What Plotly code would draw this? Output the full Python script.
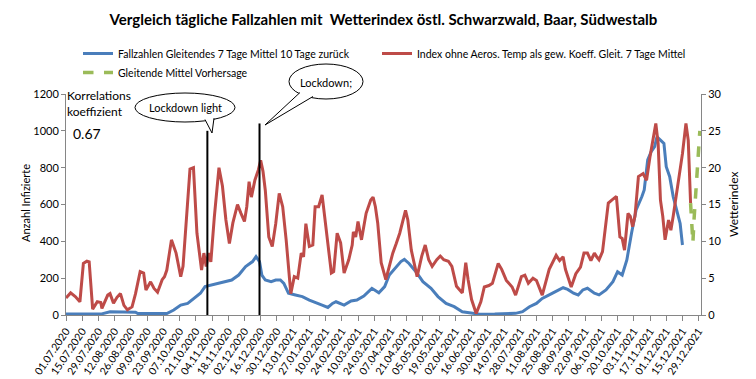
import plotly.graph_objects as go

# ---------------- data ----------------
faelle_dates = ["2020-07-01", "2020-07-31", "2020-08-08", "2020-08-30", "2020-09-01", "2020-09-26",
                "2020-10-02", "2020-10-08", "2020-10-14", "2020-10-19", "2020-10-25", "2020-10-29",
                "2020-11-04", "2020-11-10", "2020-11-16", "2020-11-21", "2020-11-27", "2020-12-03",
                "2020-12-09", "2020-12-12", "2020-12-15", "2020-12-17", "2020-12-20", "2020-12-25",
                "2020-12-29", "2021-01-02", "2021-01-05", "2021-01-09", "2021-01-15", "2021-01-21",
                "2021-01-27", "2021-02-01", "2021-02-07", "2021-02-12", "2021-02-16", "2021-02-19",
                "2021-02-26", "2021-03-04", "2021-03-09", "2021-03-15", "2021-03-22", "2021-03-28",
                "2021-04-02", "2021-04-06", "2021-04-12", "2021-04-16", "2021-04-19", "2021-04-23",
                "2021-04-29", "2021-05-05", "2021-05-12", "2021-05-18", "2021-05-25", "2021-06-01",
                "2021-06-08", "2021-06-16", "2021-06-23", "2021-07-06", "2021-07-24", "2021-07-30",
                "2021-08-05", "2021-08-11", "2021-08-16", "2021-08-22", "2021-08-28", "2021-09-03",
                "2021-09-07", "2021-09-12", "2021-09-16", "2021-09-20", "2021-09-24", "2021-09-30",
                "2021-10-04", "2021-10-10", "2021-10-16", "2021-10-20", "2021-10-24", "2021-10-28",
                "2021-11-01", "2021-11-05", "2021-11-10", "2021-11-12", "2021-11-15", "2021-11-18",
                "2021-11-21", "2021-11-23", "2021-11-26", "2021-11-29", "2021-12-01", "2021-12-04",
                "2021-12-07", "2021-12-10", "2021-12-13", "2021-12-15"]
faelle_values = [5, 5, 18, 15, 8, 8,
                 27, 54, 63, 90, 118, 154,
                 163, 176, 181, 190, 217, 263,
                 290, 317, 290, 217, 190, 181,
                 190, 190, 172, 118, 109, 100,
                 81, 67, 54, 41, 63, 72,
                 54, 76, 81, 103, 145, 121,
                 154, 217, 262, 290, 302, 280,
                 235, 181, 145, 100, 63, 45,
                 18, 9, 4, 5, 9, 18,
                 45, 63, 90, 109, 127, 148,
                 139, 118, 109, 136, 145, 118,
                 109, 136, 181, 235, 217, 299,
                 443, 570, 643, 679, 842, 887,
                 914, 968, 950, 932, 805, 751,
                 643, 570, 497, 380]

index_dates = ["2020-07-01", "2020-07-05", "2020-07-09", "2020-07-13", "2020-07-16", "2020-07-19",
               "2020-07-21", "2020-07-24", "2020-07-28", "2020-07-31", "2020-08-01", "2020-08-06",
               "2020-08-08", "2020-08-11", "2020-08-14", "2020-08-17", "2020-08-20", "2020-08-23",
               "2020-08-27", "2020-08-30", "2020-09-03", "2020-09-06", "2020-09-08", "2020-09-12",
               "2020-09-15", "2020-09-18", "2020-09-22", "2020-09-24", "2020-09-26", "2020-09-30",
               "2020-10-04", "2020-10-08", "2020-10-10", "2020-10-13", "2020-10-16", "2020-10-19",
               "2020-10-22", "2020-10-26", "2020-10-28", "2020-10-30", "2020-11-01", "2020-11-03",
               "2020-11-06", "2020-11-10", "2020-11-13", "2020-11-16", "2020-11-19", "2020-11-22",
               "2020-11-26", "2020-11-29", "2020-12-02", "2020-12-04", "2020-12-06", "2020-12-08",
               "2020-12-11", "2020-12-14", "2020-12-16", "2020-12-18", "2020-12-20", "2020-12-23",
               "2020-12-26", "2020-12-29", "2021-01-01", "2021-01-04", "2021-01-07", "2021-01-11",
               "2021-01-14", "2021-01-17", "2021-01-20", "2021-01-22", "2021-01-24", "2021-01-27",
               "2021-01-30", "2021-02-01", "2021-02-04", "2021-02-07", "2021-02-10", "2021-02-13",
               "2021-02-15", "2021-02-17", "2021-02-20", "2021-02-23", "2021-02-26", "2021-03-02",
               "2021-03-05", "2021-03-06", "2021-03-08", "2021-03-10", "2021-03-13", "2021-03-17",
               "2021-03-21", "2021-03-23", "2021-03-25", "2021-03-27", "2021-03-30", "2021-04-03",
               "2021-04-06", "2021-04-09", "2021-04-12", "2021-04-15", "2021-04-20", "2021-04-22",
               "2021-04-25", "2021-04-28", "2021-04-30", "2021-05-04", "2021-05-07", "2021-05-10",
               "2021-05-13", "2021-05-17", "2021-05-20", "2021-05-23", "2021-05-27", "2021-05-30",
               "2021-06-03", "2021-06-08", "2021-06-11", "2021-06-13", "2021-06-16", "2021-06-20",
               "2021-06-24", "2021-06-27", "2021-07-01", "2021-07-04", "2021-07-09", "2021-07-12",
               "2021-07-16", "2021-07-21", "2021-07-24", "2021-07-29", "2021-08-01", "2021-08-04",
               "2021-08-08", "2021-08-11", "2021-08-16", "2021-08-22", "2021-08-26", "2021-08-28",
               "2021-08-31", "2021-09-03", "2021-09-05", "2021-09-10", "2021-09-14", "2021-09-18",
               "2021-09-21", "2021-09-24", "2021-09-27", "2021-09-30", "2021-10-02", "2021-10-04",
               "2021-10-07", "2021-10-10", "2021-10-12", "2021-10-15", "2021-10-19", "2021-10-22",
               "2021-10-24", "2021-10-26", "2021-10-29", "2021-10-31", "2021-11-02", "2021-11-04",
               "2021-11-07", "2021-11-11", "2021-11-14", "2021-11-17", "2021-11-20", "2021-11-22",
               "2021-11-24", "2021-11-26", "2021-11-28", "2021-11-30", "2021-12-03", "2021-12-05",
               "2021-12-07", "2021-12-09", "2021-12-12", "2021-12-15", "2021-12-18", "2021-12-20",
               "2021-12-22"]
index_values = [2.3, 3.0, 2.5, 1.8, 7.0, 7.3,
                7.2, 0.8, 1.8, 1.7, 0.9, 2.7,
                2.9, 1.6, 2.4, 2.9, 1.3, 0.7,
                1.1, 2.9, 5.9, 5.7, 3.4, 4.5,
                3.6, 3.1, 4.8, 5.2, 6.1, 10.2,
                8.4, 5.2, 6.6, 13.8, 19.8, 20.0,
                11.1, 6.1, 8.4, 6.6, 8.4, 7.2,
                13.3, 20.0, 17.5, 12.9, 9.7, 12.5,
                15.0, 13.8, 12.7, 14.7, 18.1, 16.0,
                18.3, 19.7, 21.0, 19.5, 16.9, 10.6,
                9.3, 12.4, 16.5, 14.7, 10.2, 2.9,
                5.2, 5.0, 8.4, 7.9, 12.4, 9.3,
                9.5, 14.7, 14.7, 16.3, 12.4, 8.4,
                5.7, 5.9, 11.1, 9.8, 5.7, 7.5,
                9.5, 11.3, 10.6, 12.7, 10.2, 13.8,
                15.6, 16.0, 14.7, 12.5, 7.1, 4.8,
                6.6, 8.4, 9.7, 11.1, 14.2, 12.9,
                8.8, 6.6, 5.2, 8.0, 9.5, 7.5,
                6.6, 7.5, 8.0, 7.5, 7.3, 6.6,
                3.9, 3.0, 7.1, 4.8, 2.1, 0.2,
                1.8, 3.8, 4.0, 4.3, 7.0, 6.2,
                4.7, 3.8, 2.7, 5.2, 5.4, 4.3,
                5.0, 4.7, 2.7, 6.2, 7.4, 8.1,
                7.4, 7.9, 6.2, 3.8, 5.6, 6.5,
                8.4, 8.4, 7.4, 8.4, 7.9, 7.5,
                8.6, 12.9, 15.2, 15.6, 16.1, 10.6,
                10.4, 8.8, 13.8, 13.4, 12.0, 13.4,
                18.8, 19.2, 18.3, 21.5, 24.2, 26.0,
                23.3, 15.6, 13.4, 10.2, 12.9, 11.5,
                13.4, 15.6, 18.8, 21.9, 26.0, 23.7,
                15.2]

vorhersage_dates = ["2021-12-22", "2021-12-24", "2021-12-25", "2021-12-27", "2021-12-30"]
vorhersage_values = [15.2, 9.8, 13.0, 17.6, 25.0]

lockdown_dates = ["2020-10-31", "2020-12-15"]
lockdown_tops = [1000, 1040]
lockdown_labels = ["Lockdown light", "Lockdown;"]

korrelation = "0.67"

names = ["Fallzahlen Gleitendes 7 Tage Mittel 10 Tage zurück",
         "Index ohne Aeros. Temp als gew. Koeff. Gleit. 7 Tage Mittel",
         "Gleitende Mittel Vorhersage"]
title_text = "Vergleich tägliche Fallzahlen mit\u00a0 Wetterindex östl. Schwarzwald, Baar, Südwestalb"

# ---------------- layout helpers ----------------
W, H = 756, 379
L, R, T, B = 66, 55, 94, 64
PW, PH = W - L - R, H - T - B
FONT = "Lato, 'Liberation Sans', Arial, sans-serif"
AX = "#868686"


def px(x):
    return (x - L) / PW


def py(y):
    return (H - B - y) / PH


fig = go.Figure()
fig.add_trace(go.Scatter(x=faelle_dates, y=faelle_values, name=names[0], mode="lines",
                         line=dict(color="#4A7EBB", width=3), yaxis="y",
                         legend="legend", legendgroup="a"))
fig.add_trace(go.Scatter(x=index_dates, y=index_values, name=names[1], mode="lines",
                         line=dict(color="#BE4B48", width=3), yaxis="y2",
                         legend="legend2", legendgroup="b"))
fig.add_trace(go.Scatter(x=vorhersage_dates, y=vorhersage_values, name=names[2], mode="lines",
                         line=dict(color="#9BBB59", width=3.5, dash="dash"), yaxis="y2",
                         legend="legend", legendgroup="c"))

shapes = []
for d, top in zip(lockdown_dates, lockdown_tops):
    shapes.append(dict(type="line", xref="x", yref="y", x0=d, x1=d, y0=0, y1=top,
                       line=dict(color="black", width=2)))

# callout bubbles
bubbles = [
    dict(x0=135, x1=235, y0=93, y1=122, tail=[(205, 119.5), (212, 133), (214, 118.2)], label_xy=(185, 107)),
    dict(x0=289, x1=363, y0=64, y1=99, tail=[(300, 92.5), (265, 125), (313, 96.5)], label_xy=(326, 82)),
]
annotations = []
for b, lab in zip(bubbles, lockdown_labels):
    shapes.append(dict(type="circle", xref="paper", yref="paper",
                       x0=px(b["x0"]), x1=px(b["x1"]), y0=py(b["y1"]), y1=py(b["y0"]),
                       fillcolor="white", line=dict(color="black", width=1)))
    (ax_, ay_), (tx, ty), (bx, by) = b["tail"]
    shapes.append(dict(type="path", xref="paper", yref="paper",
                       path=f"M {px(ax_)},{py(ay_)} L {px(tx)},{py(ty)} L {px(bx)},{py(by)}",
                       fillcolor="white", line=dict(color="black", width=1)))
    annotations.append(dict(text=lab, xref="paper", yref="paper", x=px(b["label_xy"][0]),
                            y=py(b["label_xy"][1]), showarrow=False, xanchor="center",
                            yanchor="middle", font=dict(size=11, color="black")))

annotations += [
    dict(text="Korrelations<br>koeffizient", xref="paper", yref="paper", x=px(65), y=py(104),
         xanchor="left", yanchor="middle", align="left", showarrow=False,
         font=dict(size=12, color="black")),
    dict(text=korrelation, xref="paper", yref="paper", x=px(71), y=py(133),
         xanchor="left", yanchor="middle", showarrow=False, font=dict(size=14, color="black")),
    dict(text="Anzahl Infizierte", xref="paper", yref="paper", x=px(25), y=py(203),
         xanchor="center", yanchor="middle", textangle=-90, showarrow=False,
         font=dict(size=11, color="black")),
    dict(text="Wetterindex", xref="paper", yref="paper", x=px(733), y=py(205),
         xanchor="center", yanchor="middle", textangle=-90, showarrow=False,
         font=dict(size=12, color="black")),
]

leg_common = dict(orientation="v", xanchor="left", yanchor="top", font=dict(size=10.5),
                  bgcolor="rgba(0,0,0,0)", itemwidth=30, tracegroupgap=0,
                  borderwidth=0)

fig.update_layout(
    width=W, height=H,
    margin=dict(l=L, r=R, t=T, b=B, autoexpand=False),
    paper_bgcolor="white", plot_bgcolor="white",
    font=dict(family=FONT, color="black", size=11),
    title=dict(text="<b>" + title_text + "</b>", x=0.5, xref="paper", xanchor="center",
               y=1 - 20 / H, yanchor="middle", font=dict(size=15, color="black")),
    showlegend=True,
    legend=dict(x=px(78), y=py(39), **leg_common),
    legend2=dict(x=px(377), y=py(39), **leg_common),
    xaxis=dict(type="date", range=["2020-07-01", "2021-12-31"], tick0="2020-07-01",
               dtick=14 * 86400000, tickformat="%d.%m.%Y", tickangle=-56,
               ticks="outside", ticklen=5, tickcolor=AX, showline=True, linecolor=AX,
               showgrid=False, zeroline=False, tickfont=dict(size=10.5), automargin=False),
    yaxis=dict(range=[0, 1200], dtick=200, ticks="outside", ticklen=4, tickcolor=AX,
               showline=True, linecolor=AX, showgrid=False, zeroline=False,
               tickfont=dict(size=11), automargin=False),
    yaxis2=dict(range=[0, 30], dtick=5, overlaying="y", side="right", ticks="outside",
                ticklen=4, tickcolor=AX, showline=True, linecolor=AX, showgrid=False,
                zeroline=False, tickfont=dict(size=11), automargin=False),
    shapes=shapes,
    annotations=annotations,
)

fig.write_html("out.html", config={"displayModeBar": False},
               post_script="document.body.style.margin='0';document.body.style.padding='0';")
